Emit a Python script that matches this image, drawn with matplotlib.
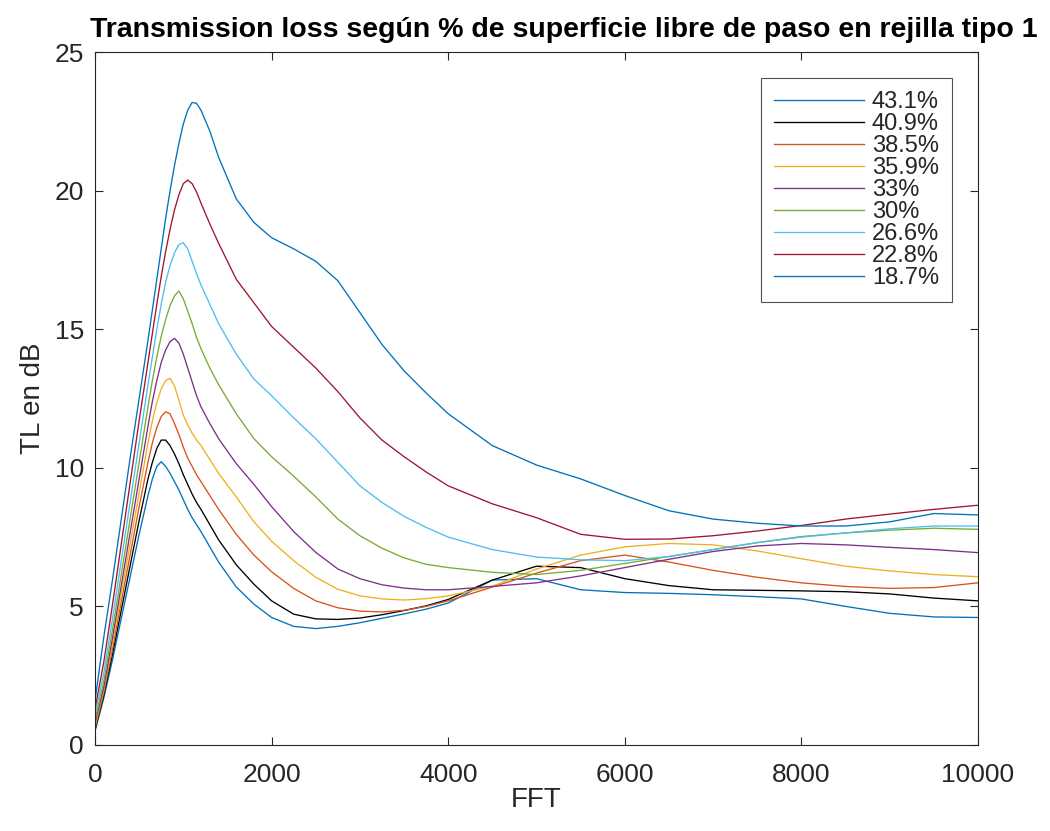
import matplotlib
matplotlib.use("Agg")
import matplotlib.pyplot as plt

# Frequency grid (FFT bins) shared by all curves
freq = [0, 100, 200, 300, 400, 500, 600, 650, 700, 750, 800, 850, 900, 950,
        1000, 1050, 1100, 1150, 1200, 1300, 1400, 1600, 1800, 2000, 2250, 2500,
        2750, 3000, 3250, 3500, 3750, 4000, 4500, 5000, 5500, 6000, 6500, 7000,
        7500, 8000, 8500, 9000, 9500, 10000]

# Transmission loss (dB) for each free-passage percentage
tl_431 = [0.5, 1.7, 3.1, 4.6, 6.1, 7.6, 9.0, 9.6, 10.05, 10.22, 10.05, 9.8, 9.5, 9.2,
          8.85, 8.5, 8.2, 7.95, 7.7, 7.15, 6.6, 5.7, 5.08, 4.6, 4.28, 4.2,
          4.28, 4.41, 4.57, 4.73, 4.9, 5.12, 5.95, 6.0, 5.6, 5.5, 5.47, 5.42,
          5.35, 5.27, 5.0, 4.75, 4.62, 4.6]
tl_409 = [0.55, 1.8, 3.3, 4.9, 6.5, 8.1, 9.6, 10.2, 10.7, 11.0, 11.0, 10.8, 10.5, 10.15,
          9.75, 9.4, 9.05, 8.75, 8.5, 7.95, 7.4, 6.5, 5.8, 5.2, 4.72, 4.55,
          4.53, 4.58, 4.7, 4.85, 5.02, 5.25, 5.95, 6.45, 6.4, 6.0, 5.75, 5.6,
          5.58, 5.56, 5.53, 5.45, 5.3, 5.2]
tl_385 = [0.6, 1.9, 3.5, 5.2, 6.9, 8.6, 10.2, 10.9, 11.45, 11.85, 12.02, 11.95, 11.6, 11.2,
          10.75, 10.35, 10.05, 9.75, 9.5, 9.0, 8.5, 7.6, 6.85, 6.25, 5.65, 5.2,
          4.95, 4.83, 4.8, 4.86, 5.0, 5.2, 5.7, 6.2, 6.65, 6.85, 6.6, 6.3,
          6.05, 5.85, 5.72, 5.65, 5.68, 5.85]
tl_359 = [0.7, 2.0, 3.7, 5.5, 7.3, 9.1, 10.9, 11.7, 12.35, 12.85, 13.15, 13.23, 12.95, 12.45,
          11.9, 11.55, 11.25, 11.0, 10.8, 10.3, 9.8, 8.95, 8.05, 7.35, 6.65, 6.05,
          5.62, 5.38, 5.27, 5.23, 5.28, 5.38, 5.73, 6.35, 6.85, 7.15, 7.27, 7.22,
          7.0, 6.72, 6.45, 6.28, 6.15, 6.07]
tl_330 = [0.8, 2.1, 3.9, 5.8, 7.7, 9.6, 11.5, 12.4, 13.15, 13.8, 14.25, 14.55, 14.67, 14.5,
          14.1, 13.6, 13.1, 12.6, 12.2, 11.6, 11.05, 10.15, 9.4, 8.6, 7.7, 6.95,
          6.35, 6.0, 5.78, 5.66, 5.6, 5.6, 5.72, 5.85, 6.1, 6.4, 6.7, 6.98,
          7.18, 7.27, 7.22, 7.13, 7.05, 6.94]
tl_300 = [0.9, 2.3, 4.2, 6.2, 8.2, 10.2, 12.2, 13.15, 14.0, 14.75, 15.35, 15.85, 16.2, 16.38,
          16.1, 15.65, 15.2, 14.7, 14.3, 13.6, 13.0, 11.95, 11.05, 10.4, 9.7, 8.95,
          8.15, 7.55, 7.1, 6.75, 6.52, 6.4, 6.23, 6.15, 6.3, 6.55, 6.8, 7.05,
          7.3, 7.52, 7.65, 7.75, 7.82, 7.78]
tl_266 = [1.1, 2.6, 4.6, 6.7, 8.8, 10.9, 13.0, 14.0, 15.0, 15.9, 16.7, 17.3, 17.75, 18.05,
          18.12, 17.9, 17.45, 17.0, 16.6, 15.9, 15.2, 14.1, 13.2, 12.6, 11.8, 11.05,
          10.2, 9.35, 8.75, 8.25, 7.85, 7.5, 7.05, 6.78, 6.68, 6.65, 6.8, 7.05,
          7.3, 7.5, 7.65, 7.8, 7.9, 7.9]
tl_228 = [1.3, 3.0, 5.1, 7.3, 9.5, 11.7, 13.8, 14.85, 15.9, 16.9, 17.8, 18.6, 19.3, 19.85,
          20.25, 20.38, 20.25, 19.95, 19.55, 18.8, 18.1, 16.8, 15.95, 15.1, 14.35, 13.6,
          12.75, 11.8, 11.0, 10.4, 9.85, 9.35, 8.7, 8.2, 7.6, 7.42, 7.43, 7.55,
          7.72, 7.92, 8.15, 8.33, 8.5, 8.65]
tl_187 = [1.6, 3.9, 6.0, 8.2, 10.4, 12.5, 14.6, 15.7, 16.8, 17.9, 19.0, 20.0, 20.9, 21.7,
          22.4, 22.9, 23.18, 23.15, 22.9, 22.15, 21.2, 19.7, 18.85, 18.3, 17.9, 17.45,
          16.75, 15.6, 14.45, 13.5, 12.7, 11.95, 10.8, 10.1, 9.6, 9.0, 8.45, 8.15,
          8.0, 7.9, 7.9, 8.05, 8.35, 8.3]

labels = ["43.1%", "40.9%", "38.5%", "35.9%", "33%", "30%", "26.6%", "22.8%", "18.7%"]
series = [tl_431, tl_409, tl_385, tl_359, tl_330, tl_300, tl_266, tl_228, tl_187]
colors = [(0.0, 0.447, 0.741), (0.0, 0.0, 0.0), (0.85, 0.325, 0.098),
          (0.929, 0.694, 0.125), (0.494, 0.184, 0.556), (0.466, 0.674, 0.188),
          (0.301, 0.745, 0.933), (0.635, 0.078, 0.184), (0.0, 0.447, 0.741)]

plt.rcParams['font.family'] = ['Liberation Sans', 'DejaVu Sans']

W, H = 1050, 831
fig = plt.figure(figsize=(W / 100, H / 100), dpi=100)
ax = fig.add_axes([95 / W, (H - 745) / H, (978 - 95) / W, (745 - 52) / H])

for y, c, lab in zip(series, colors, labels):
    ax.plot(freq, y, color=c, lw=0.95, label=lab)

ax.set_xlim(0, 10000)
ax.set_ylim(0, 25)
ax.set_xticks([0, 2000, 4000, 6000, 8000, 10000])
ax.set_yticks([0, 5, 10, 15, 20, 25])

edge = (0.15, 0.15, 0.15)
for s in ax.spines.values():
    s.set_color(edge)
    s.set_linewidth(0.8)
ax.tick_params(direction='in', length=6, width=0.8, colors=edge,
               top=True, right=True, labelsize=19)
ax.tick_params(axis='x', pad=13)
ax.tick_params(axis='y', pad=8)
for t in ax.get_xticklabels() + ax.get_yticklabels():
    t.set_color(edge)

ax.set_xlabel("FFT", fontsize=20, color=edge, labelpad=0)
ax.set_ylabel("TL en dB", fontsize=20, color=edge, labelpad=6)

fig.text(564 / W, 1 - 30 / H,
         "Transmission loss según % de superficie libre de paso en rejilla tipo 1",
         ha='center', va='center', fontsize=20.5, fontweight='bold', color='black')

leg = ax.legend(loc='upper right', bbox_to_anchor=((952 - 95) / (978 - 95), (745 - 78) / (745 - 52)),
                fontsize=17, frameon=True, fancybox=False, handlelength=3.8,
                handletextpad=0.35, labelspacing=0.0, borderpad=0.55, borderaxespad=0)
leg.get_frame().set_edgecolor(edge)
leg.get_frame().set_linewidth(0.8)
for t in leg.get_texts():
    t.set_color(edge)

fig.savefig("out.png", dpi=100, facecolor='white')
